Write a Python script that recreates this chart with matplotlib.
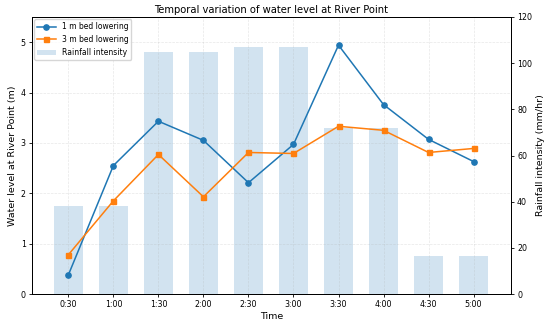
import matplotlib
matplotlib.use("Agg")
import matplotlib.pyplot as plt
import numpy as np

times = ["0:30", "1:00", "1:30", "2:00", "2:30", "3:00", "3:30", "4:00", "4:30", "5:00"]
level_1m = [0.38, 2.55, 3.43, 3.05, 2.21, 2.97, 4.94, 3.76, 3.07, 2.63]
level_3m = [0.78, 1.85, 2.77, 1.93, 2.81, 2.79, 3.33, 3.25, 2.81, 2.89]
rainfall = [38, 38, 105, 105, 107, 107, 72, 72, 16.5, 16.5]

TICK = 5.7
LAB = 6.8

fig, ax1 = plt.subplots(figsize=(5.5, 3.26), dpi=100)
x = np.arange(len(times))
ax2 = ax1.twinx()
bars = ax2.bar(x, rainfall, width=0.63, color="#1f77b4", alpha=0.2, label="Rainfall intensity", zorder=1)
ax2.set_ylim(0, 120)
ax2.set_ylabel("Rainfall intensity (mm/hr)", fontsize=LAB, labelpad=3)
ax2.tick_params(labelsize=TICK, length=2.2, pad=2.2, width=0.6)

ax1.set_zorder(ax2.get_zorder() + 1)
ax1.patch.set_visible(False)
l1, = ax1.plot(x, level_1m, marker="o", color="#1f77b4", lw=1.1, ms=3.8, label="1 m bed lowering")
l2, = ax1.plot(x, level_3m, marker="s", color="#ff7f0e", lw=1.1, ms=3.6, label="3 m bed lowering")
ax1.set_ylim(0, 5.5)
ax1.set_xlim(-0.81, len(times) - 1 + 0.83)
ax1.set_xticks(x)
ax1.set_xticklabels(times)
ax1.tick_params(labelsize=TICK, length=2.2, pad=2.2, width=0.6)
ax1.set_xlabel("Time", fontsize=LAB, labelpad=2)
ax1.set_ylabel("Water level at River Point (m)", fontsize=LAB, labelpad=3)
ax1.set_title("Temporal variation of water level at River Point", fontsize=7.2, pad=2.5)
ax1.grid(True, linestyle="--", alpha=0.3, lw=0.5)
for a in (ax1, ax2):
    for s in a.spines.values():
        s.set_linewidth(0.7)
ax1.legend([l1, l2, bars], ["1 m bed lowering", "3 m bed lowering", "Rainfall intensity"],
           loc="upper left", fontsize=5.5, frameon=True, borderaxespad=0.3,
           handlelength=2.4, framealpha=0.8, edgecolor="#cccccc")
fig.subplots_adjust(left=0.058, right=0.929, top=0.948, bottom=0.098)
fig.savefig("out.png", dpi=100)
